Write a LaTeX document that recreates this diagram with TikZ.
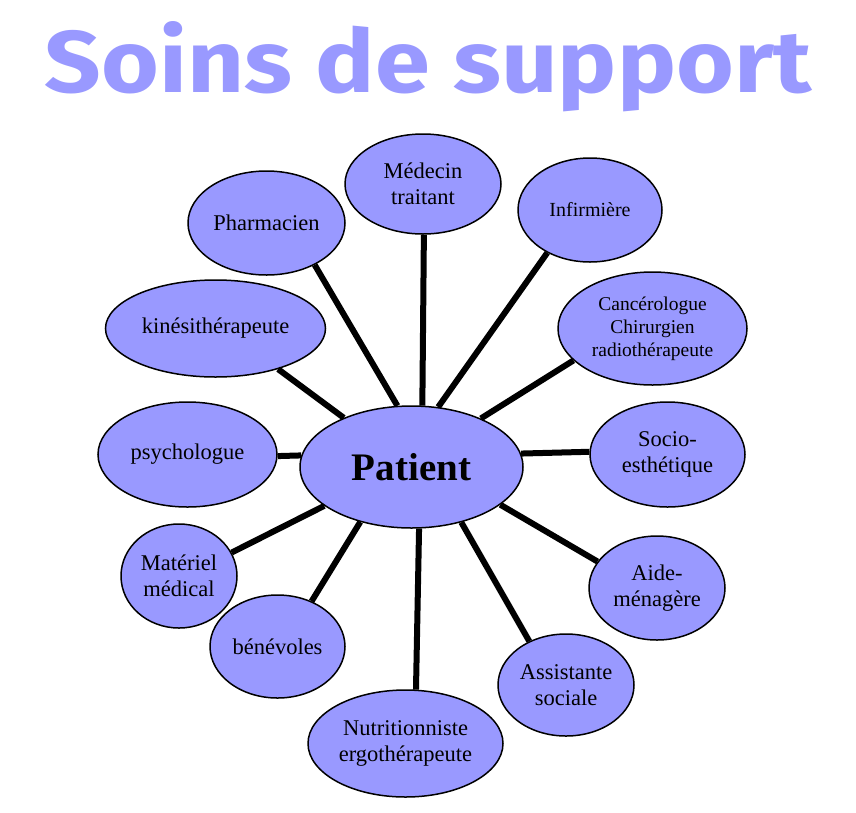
\documentclass[tikz,border=0pt]{standalone}
\usepackage{fontspec}
\setmainfont{Liberation Serif}
\newfontfamily\titlefont{Fira Sans}
\usetikzlibrary{shapes.geometric}
\definecolor{lav}{RGB}{153,153,255}
\tikzset{
  bubble/.style={ellipse, draw=black, line width=1.5pt, fill=lav, inner sep=0pt,
    align=center, text=black, font=\fontsize{22.5}{26}\selectfont},
  link/.style={line width=6pt},
}
\begin{document}
\begin{tikzpicture}[x=1pt,y=-1pt]
\useasboundingbox (0,0) rectangle (856,812);
\node[anchor=base, text=lav, inner sep=0pt] (title) at (428.5,92.7)
  {\resizebox{767pt}{71pt}{\titlefont\bfseries Soins de support}};

\node[bubble, minimum width=223pt, minimum height=122pt,
      font=\fontsize{39}{44}\selectfont\bfseries] (patient) at (411.5,467) {Patient};
\node[bubble, minimum width=156pt, minimum height=100pt] (medecin) at (423,184) {Médecin\\traitant};
\node[bubble, minimum width=157pt, minimum height=104pt] (pharm) at (266.5,223) {Pharmacien};
\node[bubble, minimum width=144pt, minimum height=104pt, font=\fontsize{20}{24}\selectfont] (inf) at (590,210) {Infirmière};
\node[bubble, minimum width=189pt, minimum height=113pt, font=\fontsize{19.5}{23}\selectfont] (canc) at (652.5,328.5) {Cancérologue\\Chirurgien\\radiothérapeute};
\node[bubble, minimum width=220pt, minimum height=97pt] (kine) at (215.5,328.5) {kinésithérapeute};
\node[bubble, minimum width=179pt, minimum height=105pt] (psych) at (187.5,454.5) {psychologue};
\node[bubble, minimum width=155pt, minimum height=105pt] (socio) at (667.5,454.5) {Socio-\\esthétique};
\node[bubble, minimum width=116pt, minimum height=104pt] (mat) at (179,576) {Matériel\\médical};
\node[bubble, minimum width=136pt, minimum height=104pt] (aide) at (657,588) {Aide-\\ménagère};
\node[bubble, minimum width=135pt, minimum height=103pt] (ben) at (277.5,646.5) {bénévoles};
\node[bubble, minimum width=136pt, minimum height=102pt] (assist) at (566,685) {Assistante\\sociale};
\node[bubble, minimum width=195pt, minimum height=107pt] (nutri) at (405.5,743.5) {Nutritionniste\\ergothérapeute};

\draw[link] (patient.103.6) -- (pharm.319.1);
\draw[link] (patient.80.1) -- (medecin.271);
\draw[link] (patient.66.2) -- (inf.225);
\draw[link] (patient.35.6) -- (canc.202.7);
\draw[link] (patient.144.8) -- (kine.327.2);
\draw[link] (patient.174.4) -- (psych.359);
\draw[link] (patient.7.2) -- (socio.178.9);
\draw[link] (patient.204.8) -- (mat.24.4);
\draw[link] (patient.227.4) -- (ben.53.4);
\draw[link] (patient.277.9) -- (nutri.79.9);
\draw[link] (patient.312) -- (assist.130.2);
\draw[link] (patient.337.4) -- (aide.156);
\end{tikzpicture}
\end{document}
